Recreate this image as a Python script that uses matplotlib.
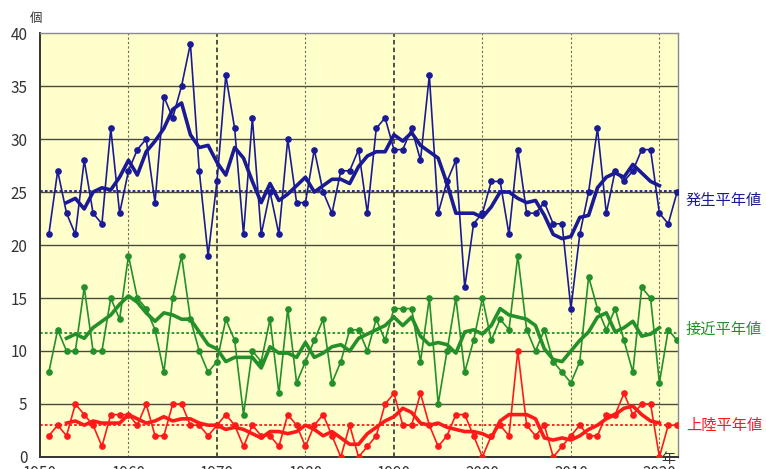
import numpy as np
import pandas as pd
import matplotlib as mpl
import matplotlib.pyplot as plt

mpl.rcParams.update({
    "font.family": ["Noto Sans CJK JP", "DejaVu Sans"],
    "font.size": 10,
})

years = list(range(1951, 2023))

# 発生数 (typhoons formed)
formed = [21, 27, 23, 21, 28, 23, 22, 31, 23, 27,
          29, 30, 24, 34, 32, 35, 39, 27, 19, 26,
          36, 31, 21, 32, 21, 25, 21, 30, 24, 24,
          29, 25, 23, 27, 27, 29, 23, 31, 32, 29,
          29, 31, 28, 36, 23, 26, 28, 16, 22, 23,
          26, 26, 21, 29, 23, 23, 24, 22, 22, 14,
          21, 25, 31, 23, 27, 26, 27, 29, 29, 23,
          22, 25]

# 接近数 (typhoons approaching)
approach = [8, 12, 10, 10, 16, 10, 10, 15, 13, 19,
            15, 14, 12, 8, 15, 19, 13, 10, 8, 9,
            13, 11, 4, 10, 9, 13, 6, 14, 7, 9,
            11, 13, 7, 9, 12, 12, 10, 13, 11, 14,
            14, 14, 9, 15, 5, 10, 15, 8, 11, 15,
            11, 13, 12, 19, 12, 10, 12, 9, 8, 7,
            9, 17, 14, 12, 14, 11, 8, 16, 15, 7,
            12, 11]

# 上陸数 (landfalls)
landfall = [2, 3, 2, 5, 4, 3, 1, 4, 4, 4,
            3, 5, 2, 2, 5, 5, 3, 3, 2, 3,
            4, 3, 1, 3, 2, 2, 1, 4, 3, 1,
            3, 4, 2, 0, 3, 0, 1, 2, 5, 6,
            3, 3, 6, 3, 1, 2, 4, 4, 2, 0,
            2, 3, 2, 10, 3, 2, 3, 0, 1, 2,
            3, 2, 2, 4, 4, 6, 4, 5, 5, 0,
            3, 3]

normals = [25.1, 11.7, 3.0]
normal_labels = ["発生平年値", "接近平年値", "上陸平年値"]
label_y = [24.2, 12.0, 3.0]
colors = ["#1a1a96", "#23902a", "#ff1a1a"]
series = [formed, approach, landfall]

decades = [1950, 1960, 1970, 1980, 1990, 2000, 2010, 2020]
yticks = [0, 5, 10, 15, 20, 25, 30, 35, 40]

fig = plt.figure(figsize=(7.66, 4.69), dpi=100)
ax = fig.add_axes([0.0522, 0.0256, 0.8329, 0.904])
ax.set_facecolor("#ffffcc")

ax.set_xlim(1950.05, 2022.1)
ax.set_ylim(0, 40)

# grid
for v in yticks[1:-1]:
    ax.axhline(v, color="#4a4a3a", lw=1.0, zorder=1)
for d in decades[1:]:
    if d in (1970, 1990):
        ax.axvline(d, color="#222222", lw=1.1, ls=(0, (3, 2)), zorder=1)
    else:
        ax.axvline(d, color="#6a6a5a", lw=0.8, ls=(0, (2, 2)), zorder=1)

yr = np.array(years)
for vals, nv, col in zip(series, normals, colors):
    ax.axhline(nv, color=col, lw=1.3, ls=(0, (1.5, 1.2)), zorder=2)
    ax.plot(yr, vals, color=col, lw=1.2, marker="o", markersize=3.8,
            zorder=3)
    ma = pd.Series(vals, index=yr).rolling(5, center=True).mean()
    ax.plot(yr, ma.values, color=col, lw=2.6, zorder=4,
            solid_joinstyle="round")

for txt, y, col in zip(normal_labels, label_y, colors):
    ax.text(2023.0, y, txt, color=col, fontsize=11, va="center",
            ha="left", clip_on=False)

ax.set_yticks(yticks)
ax.set_xticks(decades)
ax.set_xticklabels([str(d) for d in decades])
ax.tick_params(axis="y", length=0, pad=9, labelsize=11, colors="#333333")
ax.tick_params(axis="x", length=0, pad=6, labelsize=11, colors="#333333")

for side in ("left", "bottom"):
    ax.spines[side].set_color("#333333")
    ax.spines[side].set_linewidth(1.4)
for side in ("top", "right"):
    ax.spines[side].set_color("#8a8a8a")
    ax.spines[side].set_linewidth(1.0)

fig.text(0.047, 0.96, "個", fontsize=9, ha="center", va="center",
         color="#333333")
fig.text(0.872, 0.022, "年", fontsize=10, ha="center", va="center",
         color="#333333")

fig.savefig("out.png", dpi=100)
